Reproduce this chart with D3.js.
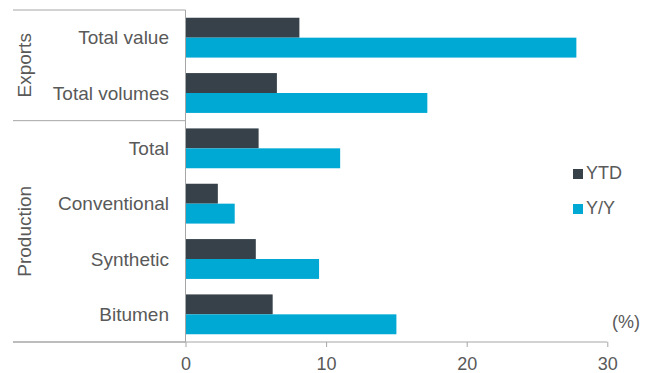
<!DOCTYPE html>
<html>
<head>
<meta charset="utf-8">
<script src="https://cdn.jsdelivr.net/npm/d3@7"></script>
<style>
body { margin: 0; background: white; }
text { font-family: "Liberation Sans", Arial, sans-serif; fill: #595959; }
</style>
</head>
<body>
<svg></svg>
<script>
var w = 650
var h = 373

var categories = ["Total value", "Total volumes", "Total", "Conventional", "Synthetic", "Bitumen"]
var groups = [
	{name: "Exports", from: 0, to: 1},
	{name: "Production", from: 2, to: 5}
]
var seriesNames = ["YTD", "Y/Y"]
var ytd = [8.1, 6.5, 5.2, 2.3, 5.0, 6.2]
var yy = [27.8, 17.2, 11.0, 3.5, 9.5, 15.0]
var xTicks = [0, 10, 20, 30]
var colors = ["#36414a", "#00a9d4"]

var svg = d3.select("svg")
	.attr("width", w)
	.attr("height", h)

var plotLeft = 185.5, plotRight = 607.3, plotTop = 10, plotBottom = 342
var outerLeft = 13

var x = d3.scaleLinear().domain([0, 30]).range([plotLeft, plotRight])
var y = d3.scaleBand().domain(categories).range([plotTop, plotBottom]).paddingInner(0.28).paddingOuter(0.14)
var sub = d3.scaleBand().domain(seriesNames).range([0, y.bandwidth()])

var lineColor = "#a6a6a6"

// bars
var data = []
categories.forEach(function(c, i){
	data.push({cat: c, s: "YTD", v: ytd[i], color: colors[0]})
	data.push({cat: c, s: "Y/Y", v: yy[i], color: colors[1]})
})

svg.selectAll("rect.bar")
	.data(data)
	.join("rect")
	.attr("class", "bar")
	.attr("x", x(0))
	.attr("y", function(d){ return y(d.cat) + sub(d.s) })
	.attr("width", function(d){ return x(d.v) - x(0) })
	.attr("height", sub.bandwidth())
	.attr("fill", function(d){ return d.color })

// category labels
svg.selectAll("text.cat")
	.data(categories)
	.join("text")
	.attr("class", "cat")
	.attr("x", 169)
	.attr("y", function(d){ return y(d) + y.bandwidth()/2 + 6.5 })
	.attr("text-anchor", "end")
	.style("font-size", "19px")
	.text(function(d){ return d })

// group separators and labels
function boundary(i){
	return plotTop + y.step() * i
}
svg.append("line")
	.attr("x1", outerLeft).attr("x2", plotLeft)
	.attr("y1", plotTop).attr("y2", plotTop)
	.attr("stroke", lineColor)
groups.forEach(function(g){
	var y0 = boundary(g.from), y1 = boundary(g.to + 1)
	svg.append("line")
		.attr("x1", outerLeft).attr("x2", plotLeft)
		.attr("y1", y1).attr("y2", y1)
		.attr("stroke", lineColor)
	svg.append("text")
		.attr("transform", "translate(31," + (y0 + y1)/2 + ") rotate(-90)")
		.attr("text-anchor", "middle")
		.style("font-size", "19px")
		.text(g.name)
})

// vertical axis line
svg.append("line")
	.attr("x1", plotLeft).attr("x2", plotLeft)
	.attr("y1", plotTop).attr("y2", plotBottom)
	.attr("stroke", lineColor)

// x axis
var xAxis = svg.append("g")
	.attr("transform", "translate(0," + plotBottom + ")")
	.call(d3.axisBottom(x).tickValues(xTicks).tickSize(5).tickPadding(10).tickSizeOuter(0))
xAxis.select(".domain").remove()
xAxis.selectAll("line").attr("stroke", lineColor)
xAxis.selectAll("text")
	.style("font-size", "18px")
	.style("font-family", "'Liberation Sans', Arial, sans-serif")
	.attr("fill", "#595959")
svg.append("line")
	.attr("x1", outerLeft).attr("x2", plotRight)
	.attr("y1", plotBottom).attr("y2", plotBottom)
	.attr("stroke", lineColor)

// legend
var legend = svg.selectAll("g.leg")
	.data(seriesNames)
	.join("g")
	.attr("class", "leg")
	.attr("transform", function(d, i){ return "translate(573," + (169 + i*35) + ")" })
legend.append("rect")
	.attr("width", 10).attr("height", 10)
	.attr("fill", function(d, i){ return colors[i] })
legend.append("text")
	.attr("x", 13).attr("y", 10)
	.style("font-size", "18px")
	.text(function(d){ return d })

svg.append("text")
	.attr("x", 640).attr("y", 328)
	.attr("text-anchor", "end")
	.style("font-size", "18px")
	.text("(%)")
</script>
</body>
</html>
